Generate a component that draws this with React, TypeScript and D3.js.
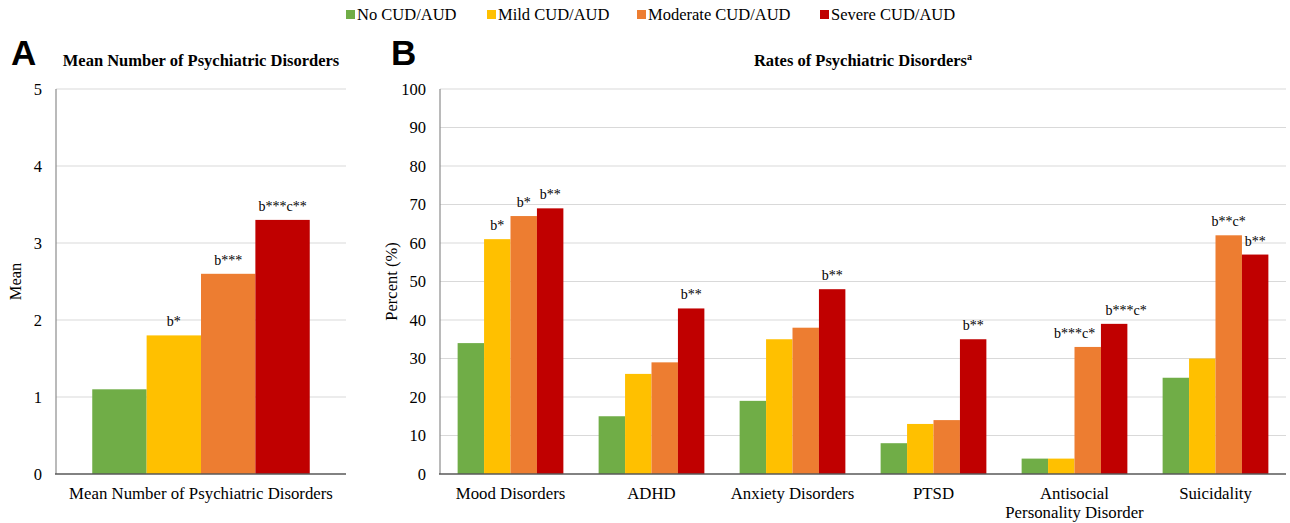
import React from "react";
import * as d3 from "d3";

// ---------- data ----------
const seriesNames = ["No CUD/AUD", "Mild CUD/AUD", "Moderate CUD/AUD", "Severe CUD/AUD"];
const seriesColors = ["#70AD47", "#FFC000", "#ED7D31", "#C00000"];

const categoriesA = ["Mean Number of Psychiatric Disorders"];
const meanValues = [[1.1, 1.8, 2.6, 3.3]];
const meanLabels = [["", "b*", "b***", "b***c**"]];
const ticksA = [0, 1, 2, 3, 4, 5];

const categoriesB = [
  "Mood Disorders",
  "ADHD",
  "Anxiety Disorders",
  "PTSD",
  "Antisocial\nPersonality Disorder",
  "Suicidality",
];
const noCud = [34, 15, 19, 8, 4, 25];
const mildCud = [61, 26, 35, 13, 4, 30];
const moderateCud = [67, 29, 38, 14, 33, 62];
const severeCud = [69, 43, 48, 35, 39, 57];
const rateLabels = [
  ["", "b*", "b*", "b**"],
  ["", "", "", "b**"],
  ["", "", "", "b**"],
  ["", "", "", "b**"],
  ["", "", "b***c*", "b***c*"],
  ["", "", "b**c*", "b**"],
];
const ticksB = [0, 10, 20, 30, 40, 50, 60, 70, 80, 90, 100];

// ---------- layout / style ----------
const W = 1290;
const H = 523;
const SERIF = "'Liberation Serif', 'Times New Roman', serif";
const SANS = "'Liberation Sans', Arial, sans-serif";
const TOP = 89;
const BOTTOM = 474;
const GROUP_FRAC = 0.75;
// small horizontal nudges for overlapping annotations: [category][series]
const labelNudge: Record<string, number> = { "4-2": -13, "4-3": 12 };

function Panel({
  x0,
  x1,
  maxV,
  ticks,
  cats,
  values,
  labels,
  yTitle,
  yTitleX,
  title,
  sup,
  letter,
  letterX,
  nudge,
}: any) {
  const y = d3.scaleLinear().domain([0, maxV]).range([BOTTOM, TOP]);
  const xb = d3.scaleBand<number>().domain(cats.map((_: any, i: number) => i)).range([x0, x1]).padding(0);
  const bw = xb.bandwidth();
  const xs = d3
    .scaleBand<number>()
    .domain(seriesNames.map((_, i) => i))
    .range([(bw * (1 - GROUP_FRAC)) / 2, bw - (bw * (1 - GROUP_FRAC)) / 2])
    .padding(0);
  const cx = (x0 + x1) / 2;
  return (
    <g>
      <text x={letterX} y={65} fontFamily={SANS} fontWeight="bold" fontSize={35} fill="#000">
        {letter}
      </text>
      <text x={cx} y={66} textAnchor="middle" fontFamily={SERIF} fontWeight="bold" fontSize={16.5} fill="#000">
        {title}
        {sup ? (
          <tspan fontSize={10} dy={-6}>
            {sup}
          </tspan>
        ) : null}
      </text>
      {ticks.map((t: number) => (
        <g key={t}>
          {t > 0 && <line x1={x0} x2={x1} y1={y(t)} y2={y(t)} stroke="#d9d9d9" strokeWidth={1} />}
          <text
            x={x0 - 14}
            y={y(t)}
            dy="0.35em"
            textAnchor="end"
            fontFamily={SERIF}
            fontSize={16.5}
            fill="#000"
          >
            {t}
          </text>
        </g>
      ))}
      <text
        transform={`translate(${yTitleX},${(TOP + BOTTOM) / 2}) rotate(-90)`}
        textAnchor="middle"
        dy="0.35em"
        fontFamily={SERIF}
        fontSize={16.5}
        fill="#000"
      >
        {yTitle}
      </text>
      {cats.map((c: string, ci: number) => {
        const gx = xb(ci)!;
        return (
          <g key={ci}>
            {values[ci].map((v: number, si: number) => (
              <rect
                key={si}
                x={gx + xs(si)!}
                y={y(v)}
                width={xs.bandwidth()}
                height={BOTTOM - y(v)}
                fill={seriesColors[si]}
              />
            ))}
            {labels[ci].map((l: string, si: number) =>
              l ? (
                <text
                  key={"l" + si}
                  x={gx + xs(si)! + xs.bandwidth() / 2 + ((nudge && nudge[`${ci}-${si}`]) || 0)}
                  y={y(values[ci][si]) - 9}
                  textAnchor="middle"
                  fontFamily={SERIF}
                  fontSize={14}
                  fill="#000"
                >
                  {l}
                </text>
              ) : null
            )}
            {c.split("\n").map((line, li) => (
              <text
                key={"c" + li}
                x={gx + bw / 2}
                y={499 + li * 19}
                textAnchor="middle"
                fontFamily={SERIF}
                fontSize={16.8}
                fill="#000"
              >
                {line}
              </text>
            ))}
          </g>
        );
      })}
      <line x1={x0} x2={x0} y1={TOP} y2={BOTTOM} stroke="#8c8c8c" strokeWidth={1.2} />
      <line x1={x0 - 1} x2={x1} y1={BOTTOM} y2={BOTTOM} stroke="#595959" strokeWidth={1.6} />
    </g>
  );
}

const legendX = [346, 487, 637, 820];

export default function App() {
  const valuesB = categoriesB.map((_, i) => [noCud[i], mildCud[i], moderateCud[i], severeCud[i]]);
  return (
    <svg
      width={W}
      height={H}
      viewBox={`0 0 ${W} ${H}`}
      style={{ position: "absolute", left: 0, top: 0, background: "#fff" }}
    >
      <rect width={W} height={H} fill="#fff" />
      {seriesNames.map((s, i) => (
        <g key={s}>
          <rect x={legendX[i]} y={10} width={9} height={9} fill={seriesColors[i]} />
          <text x={legendX[i] + 11} y={20} fontFamily={SERIF} fontSize={16.5} fill="#000">
            {s}
          </text>
        </g>
      ))}
      <Panel
        x0={56}
        x1={346}
        maxV={5}
        ticks={ticksA}
        cats={categoriesA}
        values={meanValues}
        labels={meanLabels}
        yTitle="Mean"
        yTitleX={15}
        title="Mean Number of Psychiatric Disorders"
        letter="A"
        letterX={11}
      />
      <Panel
        x0={440}
        x1={1286}
        maxV={100}
        ticks={ticksB}
        cats={categoriesB}
        values={valuesB}
        labels={rateLabels}
        yTitle="Percent (%)"
        yTitleX={391}
        title="Rates of Psychiatric Disorders"
        sup="a"
        letter="B"
        letterX={391}
        nudge={labelNudge}
      />
    </svg>
  );
}
